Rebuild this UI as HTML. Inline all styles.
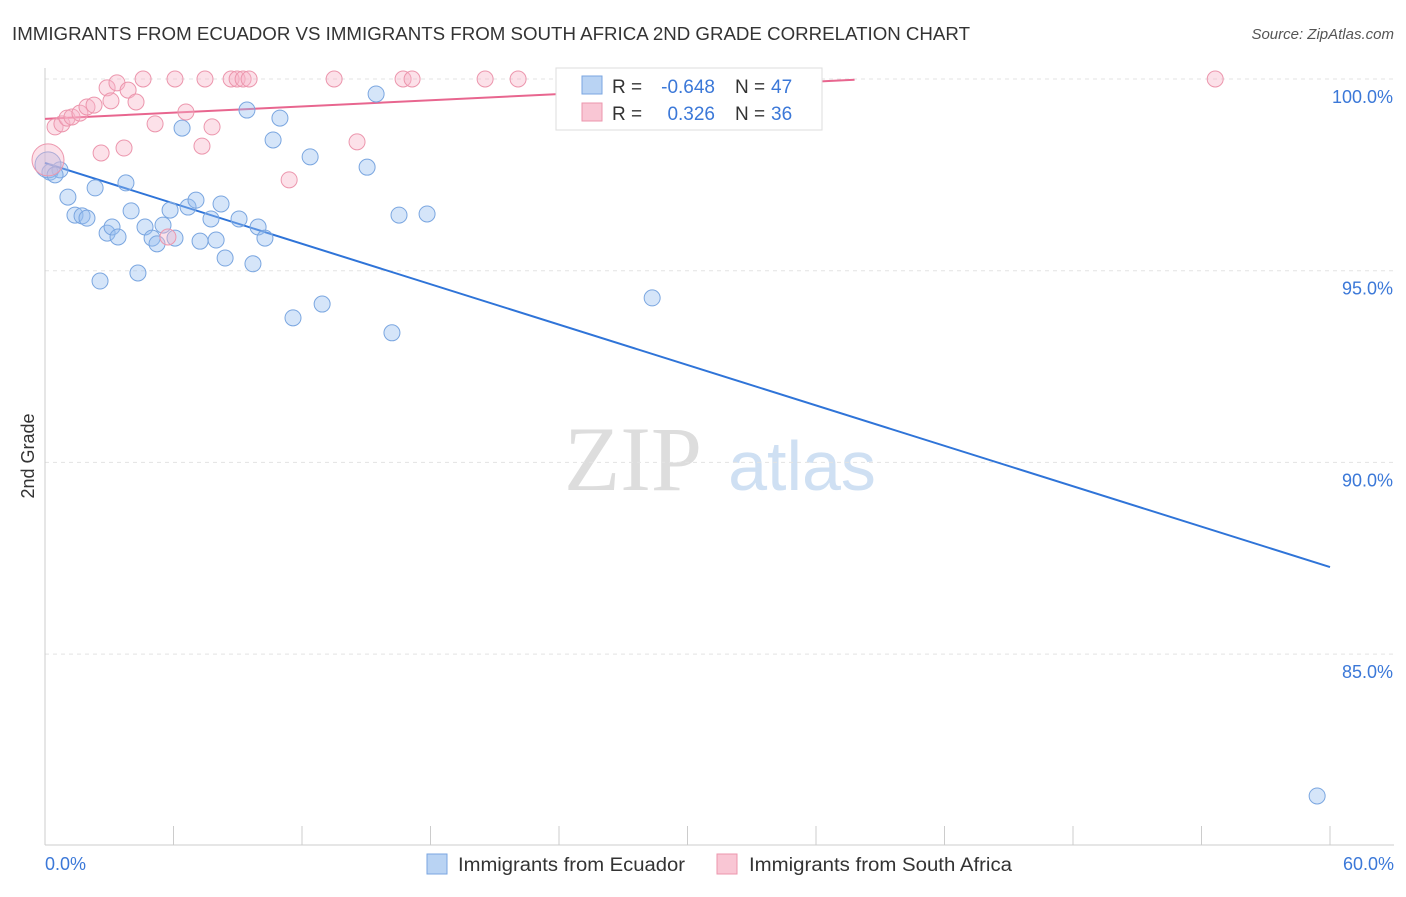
<!DOCTYPE html>
<html><head><meta charset="utf-8"><style>
body{margin:0;background:#fff;font-family:"Liberation Sans",sans-serif;}
</style></head><body>
<svg width="1406" height="892" xmlns="http://www.w3.org/2000/svg" id="chart">
<text x="12" y="40" font-size="18" fill="#333" textLength="958" lengthAdjust="spacingAndGlyphs">IMMIGRANTS FROM ECUADOR VS IMMIGRANTS FROM SOUTH AFRICA 2ND GRADE CORRELATION CHART</text>
<text x="1394" y="39" font-size="15" fill="#555" text-anchor="end" font-style="italic">Source: ZipAtlas.com</text>
<text x="34" y="456" font-size="18" fill="#333" text-anchor="middle" transform="rotate(-90 34 456)">2nd Grade</text>
<g><text x="633" y="490" font-size="92" fill="#ddd" text-anchor="middle" font-family="Liberation Serif,serif">ZIP</text><text x="802" y="490" font-size="70" fill="#cfe0f3" text-anchor="middle">atlas</text></g>
<g id="grid"></g><g id="axes"></g><g id="lines"></g><g id="pts"></g>
<g>
<rect x="556" y="68" width="266" height="62" fill="#fff" stroke="#ddd"/>
<rect x="582" y="76" width="20" height="18" fill="#b9d3f3" stroke="#7aa6e0"/>
<rect x="582" y="103" width="20" height="18" fill="#f9c6d4" stroke="#ec96ad"/>
<text x="612" y="93" font-size="19" fill="#333">R =</text>
<text x="715" y="93" font-size="19" fill="#3b78d8" text-anchor="end">-0.648</text>
<text x="735" y="93" font-size="19" fill="#333">N =</text>
<text x="771" y="93" font-size="19" fill="#3b78d8">47</text>
<text x="612" y="120" font-size="19" fill="#333">R =</text>
<text x="715" y="120" font-size="19" fill="#3b78d8" text-anchor="end">0.326</text>
<text x="735" y="120" font-size="19" fill="#333">N =</text>
<text x="771" y="120" font-size="19" fill="#3b78d8">36</text>
</g>
<g>
<rect x="427" y="854" width="20" height="20" fill="#b9d3f3" stroke="#7aa6e0"/>
<text x="458" y="871" font-size="19" fill="#333" textLength="227" lengthAdjust="spacingAndGlyphs">Immigrants from Ecuador</text>
<rect x="717" y="854" width="20" height="20" fill="#f9c6d4" stroke="#ec96ad"/>
<text x="749" y="871" font-size="19" fill="#333" textLength="263" lengthAdjust="spacingAndGlyphs">Immigrants from South Africa</text>
</g>
</svg>
<script>
const blueX=[0.23,0.70,1.07,1.40,1.73,1.96,2.34,2.57,2.90,3.13,3.41,3.78,4.02,4.34,4.67,5.00,5.23,5.51,5.84,6.07,6.40,6.68,7.05,7.24,7.75,7.99,8.22,8.41,9.06,9.43,9.71,9.95,10.27,10.65,10.97,11.58,12.38,12.94,15.04,15.46,16.20,16.53,17.84,28.35,59.40,0.14,0.47];
const blueY=[97.57,97.63,96.92,96.45,96.43,96.37,97.16,94.73,95.98,96.14,95.88,97.29,96.56,94.94,96.14,95.85,95.70,96.19,96.58,95.85,98.72,96.66,96.84,95.77,96.35,95.80,96.74,95.33,96.35,99.19,95.18,96.14,95.85,98.41,98.98,93.77,97.97,94.13,97.70,99.61,93.38,96.45,96.48,94.29,81.30,97.76,97.50];
const pinkX=[0.14,0.47,0.79,1.03,1.26,1.63,1.96,2.29,2.62,2.90,3.08,3.36,3.69,3.88,4.25,4.58,5.14,6.07,6.58,7.33,7.47,7.80,8.69,8.97,9.25,9.53,11.40,13.50,14.57,16.72,17.14,20.55,22.09,33.62,54.64,5.74];
const pinkY=[97.89,98.75,98.83,98.98,99.01,99.11,99.27,99.32,98.07,99.77,99.43,99.90,98.20,99.71,99.40,100,98.83,100,99.14,98.25,100,98.75,100,100,100,100,97.37,100,98.36,100,100,100,100,100,100,95.88];
const blueTrend=[[0,97.81],[60,87.27]];
const pinkTrend=[[0,98.96],[37.8,99.98]];
const yTicks=[100,95,90,85];
const xTicks=[0,6,12,18,24,30,36,42,48,54,60];
const sx=v=>45+v/60*1285;
const sy=v=>79+(100-v)*38.34;
const NS="http://www.w3.org/2000/svg";
function mk(p,t,a){const e=document.createElementNS(NS,t);for(const k in a)e.setAttribute(k,a[k]);document.getElementById(p).appendChild(e);return e;}
yTicks.forEach(t=>{
 const l=mk('grid','line',{x1:45,x2:1394,y1:sy(t),y2:sy(t),stroke:'#e3e3e3','stroke-dasharray':'4,4'});
 
 
 const tx=mk('grid','text',{x:1393,y:sy(t)+24,'font-size':18,fill:'#3b78d8','text-anchor':'end'});tx.textContent=t.toFixed(1)+'%';
 
 
});
const ax=mk('axes','line',{x1:45,x2:45,y1:68,y2:845,stroke:'#ccc'});


const bx=mk('axes','line',{x1:45,x2:1394,y1:845,y2:845,stroke:'#ccc'});


xTicks.forEach(t=>{const l=mk('axes','line',{x1:sx(t),x2:sx(t),y1:826,y2:845,stroke:'#ccc'});
 
 });
[[0,'0.0%','start',45],[60,'60.0%','end',1394]].forEach(([v,s,a,x])=>{const t=mk('axes','text',{x:x,y:870,'font-size':18,fill:'#3b78d8','text-anchor':a});t.textContent=s;
 
 });
const bl=mk('lines','line',{x1:sx(blueTrend[0][0]),y1:sy(blueTrend[0][1]),x2:sx(blueTrend[1][0]),y2:sy(blueTrend[1][1]),stroke:'#2f74d8','stroke-width':2});


const pl=mk('lines','line',{x1:sx(pinkTrend[0][0]),y1:sy(pinkTrend[0][1]),x2:sx(pinkTrend[1][0]),y2:sy(pinkTrend[1][1]),stroke:'#e8668f','stroke-width':2});


blueX.forEach((x,i)=>{const c=mk('pts','circle',{cx:sx(x),cy:sy(blueY[i]),r:i==45?13:8,fill:'rgba(150,190,240,0.4)',stroke:'#7aa6e0','stroke-width':1});
 
 });
pinkX.forEach((x,i)=>{const c=mk('pts','circle',{cx:sx(x),cy:sy(pinkY[i]),r:i==0?16:8,fill:'rgba(248,180,200,0.4)',stroke:'#ec96ad','stroke-width':1});
 
 });
</script>
</body></html>
